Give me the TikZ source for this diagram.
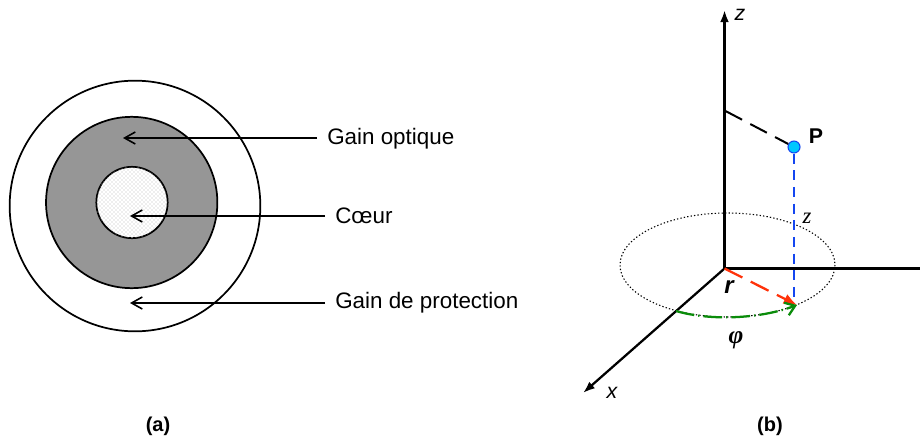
\documentclass[tikz,border=0pt]{standalone}
\usepackage{fontspec}
\setmainfont{Liberation Sans}
\newfontfamily\serifit{Liberation Serif}
\usepackage{tikz}
\usetikzlibrary{arrows.meta, positioning, patterns}
\definecolor{mygray}{RGB}{150,150,150}
\definecolor{myblue}{RGB}{20,70,240}
\definecolor{myred}{RGB}{255,50,10}
\definecolor{mygreen}{RGB}{10,140,10}
\definecolor{mycyan}{RGB}{0,200,255}
\tikzset{
    ring/.style={draw=black, line width=1.3pt},
    label/.style={font=\fontsize{16.8}{20}\selectfont, inner xsep=7.5pt, inner ysep=0pt, anchor=west},
    tag/.style={inner sep=0pt, anchor=center},
    pointer/.style={line width=1.2pt, -{Straight Barb[length=8pt,width=9pt]}},
    axis/.style={line width=1.7pt}
}
\begin{document}
\begin{tikzpicture}[x=0.75pt, y=-0.75pt]
    \useasboundingbox (0,0) rectangle (920,446);

    % Fibre cross-section
    \node[ring, circle, minimum size=188pt, inner sep=0pt] (gaine) at (135,206) {};
    \node[ring, circle, fill=mygray, minimum size=128.5pt, inner sep=0pt] (gain) at (131.7,202.5) {};
    \node[ring, circle, fill=white, postaction={pattern=crosshatch dots, pattern color=gray!55}, minimum size=53.5pt, inner sep=0pt] (coeur) at (132,202.5) {};

    % Labels
    \node[label] (optique) at (317,138.5) {Gain optique};
    \node[label] (coeurlabel) at (325,216) {C\oe ur};
    \node[label] (protection) at (325,302.5) {Gain de protection};
    \coordinate (optiquetip) at (123,138);
    \coordinate (coeurtip) at (130,216);
    \coordinate (protectiontip) at (130,303);

    % Arrows
    \draw[pointer] (optique.west |- optiquetip) -- (optiquetip);
    \draw[pointer] (coeurlabel.west |- coeurtip) -- (coeurtip);
    \draw[pointer] (protection.west |- protectiontip) -- (protectiontip);

    % Axes
    \coordinate (origin) at (724.5,268.5);
    \coordinate (ztip) at (724.5,10);
    \coordinate (yend) at (920,268.5);
    \coordinate (xtip) at (583,393);
    \coordinate (zfoot) at (725.5,111);
    \coordinate (pfoot) at (794,303);
    \coordinate (rtip) at (797,305);
    \coordinate (phistart) at (676,311);

    \draw[line width=0.8pt, dash pattern=on 1pt off 1.6pt] (727.5,265) ellipse [x radius=107.5, y radius=52];
    \draw[axis, -{Latex[length=9pt,width=6.5pt]}] (origin) -- (ztip);
    \draw[axis] (origin) -- (yend);
    \draw[axis, -{Latex[length=9pt,width=6.5pt]}] (origin) -- (xtip);

    % Point P
    \node[circle, draw=myblue, fill=mycyan, line width=0.8pt, minimum size=9pt, inner sep=0pt] (P) at (794,147) {};
    \draw[line width=1.5pt, dash pattern=on 14pt off 7pt] (zfoot) -- (P);
    \draw[myblue, line width=1.8pt, dash pattern=on 7.5pt off 5pt] (P) -- (pfoot);
    \draw[myred, line width=1.7pt, dash pattern=on 15pt off 7pt, -{Latex[length=10pt,width=8pt]}] (origin) -- (rtip);
    \draw[mygreen, line width=1.7pt, dash pattern=on 14pt off 3pt on 1pt off 3pt, -{Straight Barb[length=7pt,width=10pt]}]
        (phistart) .. controls (710,321) and (760,319) .. (rtip);

    % Axis labels
    \node[tag, font=\fontsize{16}{20}\selectfont\itshape] (zlabel) at (740,15) {z};
    \node[tag, font=\fontsize{16}{20}\selectfont\itshape] (xlabel) at (612,393) {x};
    \node[tag, font=\fontsize{16}{20}\selectfont\bfseries] (Plabel) at (816,136) {P};
    \node[tag, font=\fontsize{17}{20}\selectfont\serifit\itshape] (zdist) at (807,218) {z};
    \node[tag, font=\fontsize{18}{20}\selectfont\bfseries\itshape] (rlabel) at (729,287) {r};
    \node[tag, font=\fontsize{19}{20}\selectfont\serifit\bfseries\itshape] (philabel) at (736,340) {φ};

    % Captions
    \node[tag, font=\fontsize{15}{20}\selectfont\bfseries] (capa) at (158,426) {(a)};
    \node[tag, font=\fontsize{15}{20}\selectfont\bfseries] (capb) at (770,426) {(b)};
\end{tikzpicture}
\end{document}
